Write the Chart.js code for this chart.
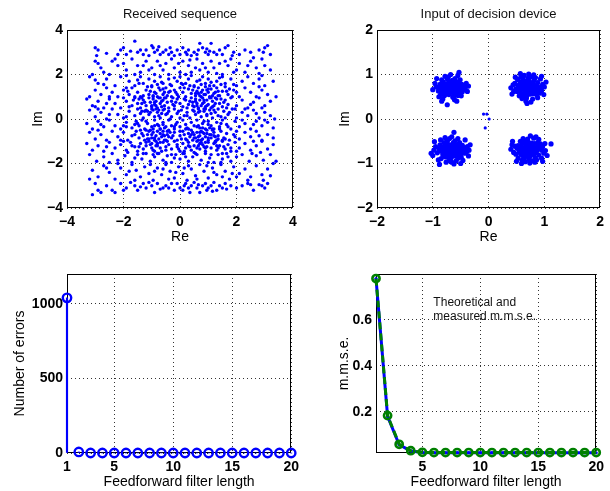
<!DOCTYPE html>
<html>
<head>
<meta charset="utf-8">
<script src="https://cdn.jsdelivr.net/npm/chart.js@4/dist/chart.umd.min.js"></script>
<style>
  html, body { margin: 0; padding: 0; background: #fff; }
  #wrap { position: relative; width: 610px; height: 491px; overflow: hidden; }
  canvas { position: absolute; }
</style>
</head>
<body>
<div id="wrap">
  <canvas id="recv" width="305" height="245" style="left:0;top:0"></canvas>
  <canvas id="dec" width="305" height="245" style="left:305px;top:0"></canvas>
  <canvas id="err" width="305" height="246" style="left:0;top:245px"></canvas>
  <canvas id="mmse" width="305" height="246" style="left:305px;top:245px"></canvas>
</div>
<script>
// ---- Received sequence (channel output, complex plane) ----
const receivedPoints = [
  [-3.0,3.2],[-2.9,3.1],[-2.1,3.1],[-2.0,3.2],[-1.6,3.5],[-1.5,3.0],[-1.3,2.9],[-1.2,3.1],[-1.0,3.3],[-0.9,3.0],[-0.8,3.1],[-0.7,2.9],[-0.5,3.1],[-0.4,2.9],[-0.3,3.0],[-0.1,3.1],[0.0,2.9],[0.2,3.0],[0.3,3.1],[0.5,3.0],[0.6,2.9],[0.7,3.4],[0.9,3.0],[1.0,2.9],[1.1,3.4],[1.3,2.9],[1.4,3.1],[1.6,3.2],[1.7,3.3],[1.9,3.0],[2.3,3.1],[2.8,3.1],[3.0,3.2],[3.1,3.3],[-2.2,2.9],[-1.9,2.9],[-1.1,2.85],[-0.6,3.0],[0.1,3.2],[0.4,2.85],[0.8,3.2],[1.2,3.0],[1.5,2.9],[-0.2,2.85],[-1.4,3.1],[2.5,3.0],[-2.6,2.95],[3.2,2.9],[-0.95,3.2],[0.65,3.1],[1.85,2.85],[-1.75,3.05],[-0.35,3.2],[0.95,3.15],[-2.95,2.85],[2.1,2.9],[0.25,2.9],[1.05,3.05],[-0.75,3.25],[2.95,3.0],
  [-3.0,2.6],[-2.8,2.3],[-2.7,2.1],[-2.4,2.6],[-2.2,2.4],[-2.0,2.5],[-1.9,2.2],[-1.7,2.7],[-1.5,2.4],[-1.4,2.1],[-1.2,2.6],[-1.0,2.3],[-0.9,2.0],[-0.8,2.6],[-0.6,2.2],[-0.5,2.5],[-0.3,2.7],[-0.2,2.3],[0.0,2.1],[0.1,2.6],[0.3,2.4],[0.4,2.1],[0.6,2.7],[0.7,2.2],[0.8,2.5],[1.0,2.1],[1.1,2.6],[1.2,2.3],[1.4,2.5],[1.5,2.0],[1.7,2.4],[1.8,2.7],[2.0,2.2],[2.1,2.5],[2.3,2.1],[2.5,2.6],[2.7,2.3],[2.9,2.7],[3.0,2.4],[3.2,2.2],[-3.1,2.0],[-2.5,2.0],[-1.6,2.0],[-0.4,2.0],[0.2,2.0],[0.9,2.3],[1.6,2.6],[2.4,2.4],[-1.1,2.2],[-0.05,2.5],[0.55,2.3],[1.3,2.05],[-2.3,2.7],[2.8,2.05],[-0.7,2.4],[1.9,2.1],[-1.3,2.4],[0.35,2.65],[2.6,2.75],[-2.9,2.5],
  [-3.2,1.9],[-2.9,1.6],[-2.6,1.8],[-2.3,1.5],[-2.1,1.9],[-1.8,1.7],[-1.6,1.5],[-1.4,1.9],[-1.3,1.6],[-1.1,1.8],[-1.0,1.5],[-0.9,1.7],[-0.7,1.9],[-0.6,1.6],[-0.4,1.8],[-0.3,1.5],[-0.1,1.7],[0.0,1.9],[0.2,1.6],[0.3,1.8],[0.5,1.5],[0.6,1.7],[0.8,1.9],[0.9,1.6],[1.0,1.8],[1.2,1.5],[1.3,1.7],[1.5,1.9],[1.6,1.6],[1.8,1.8],[2.0,1.5],[2.2,1.7],[2.4,1.9],[2.6,1.6],[2.8,1.8],[3.0,1.5],[3.3,1.7],[-2.7,1.55],[-1.9,1.95],[-0.8,1.55],[0.4,1.95],[1.1,1.65],[1.9,1.55],[-0.2,1.85],[0.7,1.75],[-1.5,1.75],[2.9,1.95],[-3.0,1.75],[1.4,1.85],[0.1,1.55],
  [-3.2,1.0],[-3.0,1.3],[-2.8,1.1],[-2.6,1.4],[-2.4,1.2],[-2.2,1.0],[-2.0,1.3],[-1.8,1.1],[-1.7,1.4],[-1.5,1.2],[-1.4,1.0],[-1.2,1.3],[-1.1,1.1],[-1.0,1.45],[-0.9,1.2],[-0.8,1.0],[-0.7,1.3],[-0.6,1.1],[-0.5,1.4],[-0.4,1.2],[-0.3,1.0],[-0.2,1.3],[-0.1,1.1],[0.0,1.4],[0.1,1.2],[0.2,1.0],[0.3,1.35],[0.4,1.15],[0.5,1.45],[0.6,1.25],[0.7,1.05],[0.8,1.3],[0.85,1.1],[0.9,1.45],[1.0,1.2],[1.05,1.0],[1.1,1.35],[1.2,1.15],[1.3,1.4],[1.4,1.05],[1.5,1.25],[1.6,1.45],[1.7,1.1],[1.9,1.3],[2.1,1.0],[2.3,1.4],[2.5,1.2],[2.7,1.0],[2.9,1.3],[3.1,1.1],[3.4,1.0],[-1.9,1.4],[-1.3,1.05],[-0.75,1.4],[-0.35,1.25],[0.15,1.4],[0.55,1.05],[0.75,1.2],[0.95,1.3],[1.15,1.05],[1.35,1.25],[-0.95,1.05],[-0.55,1.2],[-1.6,1.0],[2.0,1.2],[2.8,1.45],[-2.5,1.0],[0.65,1.4],[-0.05,1.0],[1.75,1.35],
  [-3.3,0.9],[-3.1,0.6],[-2.9,0.8],[-2.7,0.5],[-2.5,0.9],[-2.3,0.7],[-2.1,0.5],[-1.9,0.8],[-1.7,0.6],[-1.6,0.95],[-1.5,0.7],[-1.4,0.5],[-1.3,0.85],[-1.2,0.6],[-1.1,0.95],[-1.05,0.75],[-1.0,0.55],[-0.95,0.9],[-0.9,0.65],[-0.85,0.8],[-0.8,0.5],[-0.75,0.95],[-0.7,0.7],[-0.65,0.55],[-0.6,0.85],[-0.55,0.6],[-0.5,0.95],[-0.45,0.75],[-0.4,0.5],[-0.3,0.8],[-0.2,0.6],[-0.1,0.9],[0.0,0.7],[0.1,0.55],[0.2,0.85],[0.3,0.65],[0.4,0.95],[0.45,0.75],[0.5,0.55],[0.55,0.9],[0.6,0.7],[0.65,0.5],[0.7,0.85],[0.75,0.6],[0.8,0.95],[0.85,0.75],[0.9,0.55],[0.95,0.85],[1.0,0.65],[1.05,0.95],[1.1,0.5],[1.15,0.8],[1.2,0.6],[1.3,0.9],[1.4,0.7],[1.5,0.55],[1.6,0.85],[1.7,0.65],[1.8,0.95],[2.0,0.6],[2.2,0.85],[2.4,0.5],[2.6,0.75],[2.8,0.95],[3.0,0.6],[3.2,0.8],[-2.0,0.95],[-1.8,0.55],[-1.35,0.7],[-0.25,0.95],[0.25,0.5],[1.25,0.95],[1.65,0.5],[2.5,0.65],[-2.6,0.7],[-0.15,0.75],[0.35,0.8],[1.45,0.9],[2.9,0.5],[-3.0,0.55],
  [-3.2,0.4],[-3.0,0.1],[-2.8,0.3],[-2.6,0.0],[-2.4,0.45],[-2.2,0.2],[-2.0,0.05],[-1.8,0.35],[-1.6,0.15],[-1.5,0.45],[-1.4,0.25],[-1.3,0.05],[-1.2,0.4],[-1.1,0.2],[-1.0,0.45],[-0.9,0.1],[-0.8,0.3],[-0.7,0.05],[-0.6,0.4],[-0.5,0.2],[-0.4,0.35],[-0.3,0.1],[-0.2,0.45],[-0.1,0.25],[0.05,0.4],[0.15,0.15],[0.25,0.3],[0.35,0.05],[0.45,0.4],[0.55,0.2],[0.65,0.45],[0.75,0.1],[0.85,0.35],[0.95,0.15],[1.05,0.4],[1.15,0.05],[1.25,0.3],[1.35,0.45],[1.45,0.1],[1.55,0.35],[1.7,0.2],[1.85,0.45],[2.0,0.05],[2.2,0.3],[2.4,0.15],[2.6,0.4],[2.8,0.05],[3.0,0.3],[3.2,0.15],[3.35,0.0],[-2.9,0.45],[-2.5,0.2],[-1.9,0.1],[-1.05,0.3],[-0.65,0.25],[-0.35,0.0],[0.0,0.05],[0.5,0.35],[0.9,0.45],[1.6,0.05],[2.3,0.45],[2.7,0.25],[-1.35,0.35],[-0.85,0.45],[1.1,0.25],
  [-3.3,-0.2],[-3.1,-0.45],[-2.9,-0.1],[-2.7,-0.35],[-2.5,-0.05],[-2.3,-0.3],[-2.1,-0.45],[-1.9,-0.15],[-1.7,-0.4],[-1.55,-0.1],[-1.45,-0.3],[-1.35,-0.05],[-1.25,-0.45],[-1.15,-0.2],[-1.0,-0.35],[-0.9,-0.05],[-0.8,-0.25],[-0.7,-0.45],[-0.6,-0.15],[-0.5,-0.35],[-0.4,-0.05],[-0.3,-0.3],[-0.2,-0.45],[-0.1,-0.15],[0.0,-0.35],[0.1,-0.05],[0.2,-0.25],[0.3,-0.45],[0.4,-0.15],[0.5,-0.3],[0.6,-0.05],[0.7,-0.4],[0.8,-0.2],[0.9,-0.45],[1.0,-0.1],[1.1,-0.3],[1.2,-0.45],[1.3,-0.15],[1.4,-0.35],[1.5,-0.05],[1.65,-0.25],[1.8,-0.45],[1.95,-0.1],[2.1,-0.35],[2.3,-0.2],[2.5,-0.45],[2.7,-0.1],[2.9,-0.3],[3.1,-0.15],[3.3,-0.4],[-2.8,-0.25],[-2.0,-0.3],[-1.6,-0.25],[-0.95,-0.45],[-0.55,-0.4],[-0.15,-0.25],[0.25,-0.4],[0.65,-0.3],[1.05,-0.4],[1.45,-0.2],[2.2,-0.05],[2.6,-0.25],[3.0,-0.05],[-1.2,-0.1],[0.85,-0.1],
  [-3.2,-0.6],[-3.0,-0.9],[-2.8,-0.7],[-2.6,-0.95],[-2.4,-0.55],[-2.2,-0.8],[-2.0,-0.6],[-1.85,-0.95],[-1.7,-0.75],[-1.55,-0.55],[-1.45,-0.85],[-1.35,-0.65],[-1.25,-0.95],[-1.15,-0.7],[-1.05,-0.5],[-1.0,-0.85],[-0.95,-0.6],[-0.9,-0.95],[-0.85,-0.75],[-0.8,-0.55],[-0.75,-0.9],[-0.7,-0.65],[-0.65,-0.8],[-0.6,-0.55],[-0.5,-0.95],[-0.45,-0.7],[-0.4,-0.5],[-0.3,-0.85],[-0.2,-0.6],[-0.1,-0.95],[0.0,-0.75],[0.1,-0.55],[0.2,-0.9],[0.3,-0.65],[0.35,-0.8],[0.4,-0.5],[0.45,-0.95],[0.5,-0.7],[0.55,-0.85],[0.6,-0.6],[0.65,-0.95],[0.7,-0.75],[0.75,-0.55],[0.8,-0.9],[0.85,-0.65],[0.9,-0.8],[0.95,-0.5],[1.0,-0.95],[1.05,-0.7],[1.1,-0.85],[1.2,-0.6],[1.3,-0.95],[1.35,-0.75],[1.45,-0.55],[1.55,-0.85],[1.65,-0.65],[1.75,-0.95],[1.9,-0.7],[2.1,-0.9],[2.3,-0.6],[2.5,-0.8],[2.7,-0.55],[2.9,-0.95],[3.1,-0.7],[3.3,-0.85],[-2.9,-0.5],[-2.1,-0.95],[-1.6,-0.7],[-0.55,-0.75],[-0.25,-0.75],[0.15,-0.7],[0.25,-0.95],[1.15,-0.5],[1.5,-0.95],[2.0,-0.55],[2.8,-0.75],[-1.1,-0.9],[-0.35,-0.6],[0.05,-0.9],[1.25,-0.8],
  [-3.3,-1.1],[-3.1,-1.4],[-2.9,-1.2],[-2.7,-1.45],[-2.5,-1.05],[-2.3,-1.3],[-2.1,-1.15],[-1.9,-1.4],[-1.75,-1.05],[-1.6,-1.25],[-1.5,-1.45],[-1.4,-1.1],[-1.3,-1.35],[-1.2,-1.2],[-1.1,-1.0],[-1.0,-1.3],[-0.9,-1.45],[-0.8,-1.1],[-0.7,-1.3],[-0.6,-1.05],[-0.5,-1.4],[-0.4,-1.15],[-0.3,-1.35],[-0.2,-1.0],[-0.1,-1.25],[0.0,-1.45],[0.1,-1.1],[0.2,-1.3],[0.3,-1.05],[0.4,-1.4],[0.5,-1.2],[0.6,-1.0],[0.7,-1.35],[0.8,-1.15],[0.9,-1.45],[1.0,-1.05],[1.1,-1.3],[1.2,-1.1],[1.3,-1.4],[1.4,-1.2],[1.5,-1.0],[1.6,-1.35],[1.7,-1.15],[1.8,-1.45],[1.95,-1.05],[2.1,-1.3],[2.3,-1.1],[2.5,-1.4],[2.7,-1.2],[2.9,-1.0],[3.1,-1.35],[3.3,-1.15],[-2.0,-1.0],[-1.45,-1.25],[-0.85,-1.2],[-0.45,-1.0],[-0.05,-1.35],[0.35,-1.25],[0.65,-1.2],[0.95,-1.25],[1.25,-1.0],[1.55,-1.25],[-2.6,-1.25],[2.0,-1.45],[-1.05,-1.15],[0.15,-1.45],[0.75,-1.05],[1.35,-1.3],[-0.65,-1.45],[2.6,-1.0],
  [-3.2,-1.6],[-2.95,-1.9],[-2.7,-1.7],[-2.4,-1.55],[-2.2,-1.85],[-1.95,-1.65],[-1.7,-1.95],[-1.5,-1.6],[-1.35,-1.8],[-1.2,-1.55],[-1.05,-1.9],[-0.9,-1.7],[-0.75,-1.55],[-0.6,-1.85],[-0.45,-1.65],[-0.3,-1.95],[-0.15,-1.6],[0.0,-1.8],[0.15,-1.55],[0.3,-1.9],[0.45,-1.7],[0.6,-1.6],[0.75,-1.85],[0.9,-1.55],[1.05,-1.75],[1.2,-1.95],[1.35,-1.6],[1.5,-1.8],[1.65,-1.55],[1.8,-1.9],[2.0,-1.7],[2.2,-1.6],[2.45,-1.9],[2.7,-1.65],[2.95,-1.85],[3.2,-1.6],[3.4,-1.9],[-2.5,-1.95],[-1.6,-1.75],[-0.5,-1.95],[0.2,-1.7],[1.0,-1.95],[1.7,-1.7],[2.55,-1.55],[-0.95,-1.6],[0.55,-1.55],[-1.85,-1.5],[1.45,-1.95],[-0.2,-1.75],[2.85,-1.5],
  [-3.1,-2.3],[-2.9,-2.6],[-2.7,-2.1],[-2.5,-2.4],[-2.3,-2.7],[-2.1,-2.2],[-1.9,-2.5],[-1.7,-2.05],[-1.55,-2.3],[-1.4,-2.6],[-1.25,-2.15],[-1.1,-2.45],[-0.95,-2.75],[-0.8,-2.2],[-0.65,-2.5],[-0.5,-2.05],[-0.35,-2.35],[-0.2,-2.65],[-0.05,-2.15],[0.1,-2.45],[0.25,-2.75],[0.4,-2.25],[0.55,-2.55],[0.7,-2.05],[0.85,-2.35],[1.0,-2.65],[1.15,-2.2],[1.3,-2.5],[1.45,-2.05],[1.6,-2.35],[1.75,-2.7],[1.9,-2.15],[2.1,-2.45],[2.3,-2.25],[2.5,-2.6],[2.7,-2.1],[2.9,-2.5],[3.1,-2.25],[3.3,-2.0],[-3.2,-2.7],[-2.2,-2.0],[-1.6,-2.75],[-0.9,-2.35],[-0.4,-2.7],[0.3,-2.1],[0.95,-2.1],[1.5,-2.6],[2.4,-2.75],[2.95,-2.75],[-1.05,-2.05],[0.6,-2.7],[1.2,-2.4],[-2.6,-2.2],[-0.15,-2.4],[0.15,-2.2],[2.0,-2.6],[-1.8,-2.35],[-0.6,-2.25],[1.85,-2.45],[3.2,-2.55],
  [-3.1,-3.4],[-3.0,-2.9],[-2.9,-3.2],[-2.6,-3.0],[-2.4,-3.2],[-2.3,-3.3],[-2.1,-2.9],[-1.9,-3.1],[-1.6,-3.0],[-1.5,-3.2],[-1.3,-2.9],[-1.2,-3.1],[-1.0,-3.0],[-0.9,-3.3],[-0.8,-2.9],[-0.6,-3.1],[-0.5,-3.0],[-0.3,-2.9],[-0.2,-3.2],[0.0,-3.1],[0.1,-3.2],[0.2,-2.9],[0.3,-3.1],[0.4,-3.0],[0.5,-2.85],[0.6,-3.1],[0.7,-3.3],[0.8,-3.0],[0.9,-2.9],[1.0,-3.1],[1.1,-3.0],[1.2,-2.85],[1.3,-3.2],[1.4,-3.0],[1.5,-3.1],[1.6,-2.9],[1.8,-3.0],[2.0,-3.1],[2.2,-3.0],[2.4,-2.9],[2.6,-3.2],[2.8,-2.95],[3.0,-3.1],[3.1,-2.9],[-2.8,-3.3],[-1.75,-2.85],[-1.1,-2.85],[-0.7,-3.15],[-0.1,-2.9],[0.35,-3.3],[0.95,-3.2],[1.65,-3.15],[2.5,-2.95],[-0.4,-3.1],[0.15,-3.0],[0.65,-2.95],[1.15,-3.25],[-1.4,-3.05],[2.9,-3.0],[-2.0,-3.2],
  [-1.85,1.25],[-1.65,0.85],[-1.45,1.6],[-1.25,0.35],[-1.15,1.45],[-0.95,0.4],[-0.85,1.15],[-0.75,0.15],[-0.65,1.65],[-0.55,0.95],[-0.45,0.25],[-0.35,1.55],[-0.25,0.65],[-0.15,1.2],[-0.05,0.35],[0.05,1.6],[0.15,0.9],[0.25,0.15],[0.35,1.5],[0.45,0.6],[0.55,1.15],[0.65,0.3],[0.75,1.55],[0.85,0.85],[0.95,0.2],[1.05,1.5],[1.15,0.55],[1.25,1.2],[1.35,0.15],[1.45,1.55],[1.55,0.75],[1.65,1.25],[1.75,0.3],[1.85,1.0],[1.95,0.45],
  [-1.9,-0.35],[-1.7,-1.2],[-1.5,-0.2],[-1.3,-1.55],[-1.2,-0.5],[-1.0,-1.1],[-0.9,-0.3],[-0.8,-1.55],[-0.7,-1.05],[-0.6,-0.25],[-0.5,-1.25],[-0.4,-0.8],[-0.3,-1.6],[-0.2,-0.35],[-0.1,-1.15],[0.0,-0.55],[0.1,-1.55],[0.2,-0.45],[0.3,-1.2],[0.4,-0.7],[0.5,-1.5],[0.6,-0.35],[0.7,-1.1],[0.8,-0.6],[0.9,-1.3],[1.0,-0.25],[1.1,-1.6],[1.2,-0.75],[1.3,-1.2],[1.4,-0.45],[1.5,-1.55],[1.6,-0.9],[1.7,-0.35],[1.8,-1.3],[1.95,-0.8],
  [-1.35,0.95],[-1.05,1.25],[-0.85,0.6],[-0.7,0.95],[-0.55,0.45],[-1.25,0.75],[-0.95,1.0],[-0.6,1.35],[-1.15,0.35],[-0.75,0.4],[-0.45,1.05],[-1.45,0.9],[-0.9,0.75],[-0.65,0.8],[-1.0,0.6],
  [0.55,0.8],[0.75,1.0],[0.95,0.6],[1.1,0.95],[0.65,1.15],[0.85,0.45],[1.25,0.7],[0.45,1.3],[0.8,0.7],[1.0,1.35],[0.6,0.6],[1.2,0.4],[0.9,1.1],[0.7,0.35],[1.35,1.05],
  [-1.3,-0.75],[-1.1,-0.55],[-0.9,-0.85],[-0.7,-0.45],[-0.55,-0.95],[-1.2,-1.05],[-0.8,-1.2],[-1.0,-0.7],[-0.6,-0.7],[-1.4,-0.5],[-0.95,-1.4],[-0.75,-0.3],[-1.15,-0.9],[-0.45,-0.55],[-0.85,-1.0],
  [0.5,-0.85],[0.7,-0.6],[0.9,-1.05],[1.1,-0.7],[0.6,-1.3],[0.8,-0.4],[1.0,-0.85],[1.25,-1.05],[0.45,-0.6],[0.75,-0.95],[1.15,-0.45],[0.95,-0.65],[0.65,-0.8],[1.35,-0.9],[0.85,-1.25]
];
const recvTicks = [-4, -2, 0, 2, 4];
const recvTickLabels = ['\u22124', '\u22122', '0', '2', '4'];

// ---- Input of decision device: four QPSK clusters plus a few start-up samples ----
const decisionUL = [
  [-0.68,0.70],[-0.72,0.74],[-0.64,0.66],[-0.75,0.68],[-0.61,0.73],[-0.70,0.62],[-0.66,0.78],[-0.79,0.71],[-0.57,0.69],[-0.73,0.80],[-0.63,0.60],[-0.82,0.65],[-0.55,0.76],[-0.69,0.84],[-0.76,0.58],[-0.60,0.82],[-0.85,0.74],[-0.52,0.64],[-0.71,0.55],[-0.65,0.87],[-0.80,0.79],[-0.58,0.58],[-0.88,0.69],[-0.50,0.71],[-0.74,0.90],[-0.62,0.52],[-0.83,0.60],[-0.54,0.83],[-0.67,0.73],[-0.77,0.76],[-0.59,0.64],[-0.71,0.67],[-0.65,0.71],[-0.74,0.63],[-0.62,0.77],[-0.78,0.66],[-0.56,0.72],[-0.69,0.59],[-0.81,0.83],[-0.53,0.60],[-0.87,0.78],[-0.48,0.78],[-0.90,0.63],[-0.46,0.66],[-0.72,0.95],[-0.60,0.91],[-0.79,0.53],[-0.64,0.49],[-0.94,0.72],[-0.44,0.73],[-0.84,0.88],[-0.51,0.88],[-0.86,0.55],[-0.55,0.53],[-0.70,0.78],[-0.63,0.69],[-0.76,0.72],[-0.58,0.80],[-0.67,0.63],[-0.73,0.57],[-0.61,0.86],[-0.80,0.62],[-0.47,0.61],[-0.96,0.80],[-0.42,0.69],[-0.68,1.00],[-0.55,0.98],[-0.82,0.45],[-0.61,0.43],[-1.00,0.66],[-0.40,0.80],[-0.78,0.96],[-0.89,0.50],[-0.49,0.52],[-0.74,0.32],[-0.38,0.62],[-0.53,1.05],[-0.93,0.91],[-0.57,0.40],[-0.36,0.74],[-0.84,0.40]
];
const decisionUR = [
  [0.70,0.70],[0.66,0.74],[0.74,0.66],[0.63,0.69],[0.77,0.73],[0.68,0.62],[0.72,0.79],[0.60,0.76],[0.81,0.68],[0.65,0.58],[0.79,0.82],[0.57,0.64],[0.84,0.61],[0.69,0.86],[0.62,0.54],[0.87,0.76],[0.54,0.71],[0.75,0.56],[0.59,0.84],[0.82,0.88],[0.51,0.62],[0.90,0.67],[0.71,0.92],[0.67,0.51],[0.56,0.79],[0.86,0.55],[0.73,0.74],[0.64,0.65],[0.78,0.63],[0.69,0.78],[0.61,0.72],[0.76,0.69],[0.66,0.60],[0.83,0.74],[0.58,0.57],[0.73,0.85],[0.53,0.75],[0.88,0.82],[0.80,0.57],[0.62,0.89],[0.93,0.71],[0.49,0.68],[0.68,0.47],[0.76,0.95],[0.55,0.52],[0.91,0.58],[0.47,0.80],[0.84,0.93],[0.95,0.64],[0.58,0.95],[0.72,0.60],[0.67,0.68],[0.74,0.77],[0.63,0.82],[0.79,0.76],[0.70,0.55],[0.85,0.69],[0.56,0.67],[0.97,0.78],[0.45,0.62],[0.72,1.01],[0.64,0.98],[0.88,0.48],[0.60,0.46],[1.00,0.72],[0.44,0.77],[0.81,0.99],[0.93,0.90],[0.52,0.89],[0.67,0.40],[0.42,0.56],[0.99,0.55],[0.79,0.45],[0.48,0.94],[0.69,0.35],[0.40,0.70],[1.03,0.83],[0.57,1.02],[0.95,0.96],[0.76,0.38]
];
const decisionLL = [
  [-0.66,-0.70],[-0.70,-0.66],[-0.62,-0.74],[-0.73,-0.72],[-0.59,-0.67],[-0.68,-0.78],[-0.64,-0.61],[-0.77,-0.68],[-0.56,-0.75],[-0.71,-0.59],[-0.61,-0.83],[-0.80,-0.75],[-0.53,-0.65],[-0.67,-0.87],[-0.74,-0.56],[-0.58,-0.58],[-0.83,-0.64],[-0.50,-0.79],[-0.63,-0.53],[-0.78,-0.85],[-0.55,-0.88],[-0.86,-0.72],[-0.48,-0.70],[-0.70,-0.93],[-0.65,-0.74],[-0.72,-0.69],[-0.60,-0.71],[-0.69,-0.63],[-0.75,-0.79],[-0.57,-0.80],[-0.63,-0.65],[-0.79,-0.61],[-0.54,-0.60],[-0.68,-0.82],[-0.82,-0.80],[-0.51,-0.72],[-0.89,-0.67],[-0.45,-0.64],[-0.74,-0.50],[-0.60,-0.49],[-0.85,-0.89],[-0.49,-0.86],[-0.92,-0.76],[-0.43,-0.77],[-0.66,-0.97],[-0.58,-0.94],[-0.80,-0.53],[-0.52,-0.53],[-0.95,-0.62],[-0.41,-0.68],[-0.71,-0.75],[-0.64,-0.78],[-0.76,-0.64],[-0.59,-0.63],[-0.67,-0.58],[-0.73,-0.86],[-0.56,-0.68],[-0.87,-0.58],[-0.47,-0.59],[-0.98,-0.70],[-0.39,-0.73],[-0.76,-0.97],[-0.62,-1.01],[-0.86,-0.47],[-0.55,-0.44],[-1.00,-0.82],[-0.38,-0.62],[-0.90,-0.92],[-0.46,-0.93],[-0.66,-0.40],[-0.35,-0.70],[-0.97,-0.51],[-0.78,-0.42],[-0.50,-1.00],[-0.62,-0.30],[-0.33,-0.58],[-1.03,-0.77],[-0.42,-0.47],[-0.88,-1.02],[-0.70,-0.44],[-0.36,-0.83]
];
const decisionLR = [
  [0.72,-0.68],[0.68,-0.72],[0.76,-0.64],[0.65,-0.66],[0.79,-0.71],[0.70,-0.60],[0.74,-0.77],[0.62,-0.74],[0.83,-0.65],[0.67,-0.56],[0.81,-0.80],[0.59,-0.62],[0.86,-0.72],[0.71,-0.85],[0.64,-0.52],[0.89,-0.59],[0.56,-0.70],[0.77,-0.54],[0.61,-0.82],[0.84,-0.88],[0.53,-0.60],[0.92,-0.66],[0.73,-0.91],[0.69,-0.49],[0.58,-0.79],[0.88,-0.53],[0.75,-0.71],[0.66,-0.63],[0.80,-0.61],[0.71,-0.76],[0.63,-0.69],[0.78,-0.67],[0.68,-0.58],[0.85,-0.75],[0.60,-0.55],[0.75,-0.83],[0.55,-0.74],[0.90,-0.81],[0.82,-0.55],[0.64,-0.88],[0.95,-0.70],[0.51,-0.66],[0.70,-0.45],[0.78,-0.94],[0.57,-0.50],[0.93,-0.56],[0.49,-0.79],[0.86,-0.92],[0.97,-0.62],[0.60,-0.93],[0.74,-0.59],[0.69,-0.66],[0.76,-0.75],[0.65,-0.80],[0.81,-0.74],[0.72,-0.53],[0.87,-0.67],[0.58,-0.66],[0.99,-0.77],[0.47,-0.61],[0.74,-0.99],[0.66,-0.96],[0.90,-0.46],[0.62,-0.44],[1.02,-0.71],[0.45,-0.75],[0.83,-0.97],[0.95,-0.88],[0.53,-0.88],[0.75,-0.38],[0.42,-0.58],[1.01,-0.55],[0.81,-0.43],[0.50,-0.95],[1.12,-0.56],[0.40,-0.68],[1.05,-0.82],[0.59,-1.00],[0.97,-0.95],[0.85,-0.40],[0.43,-0.50]
];
const decisionStartup = [[-0.09,0.11],[-0.03,0.11],[0.01,0.00],[-0.06,-0.20]];
const decTicks = [-2, -1, 0, 1, 2];
const decTickLabels = ['\u22122', '\u22121', '0', '1', '2'];

// ---- Symbol errors and m.m.s.e. versus feedforward filter length ----
const filterLengths = [1, 2, 3, 4, 5, 6, 7, 8, 9, 10, 11, 12, 13, 14, 15, 16, 17, 18, 19, 20];
const errorCounts   = [1040, 7, 0, 0, 0, 0, 0, 0, 0, 0, 0, 0, 0, 0, 0, 0, 0, 0, 0, 0];
const errXTicks = [1, 5, 10, 15, 20];
const errXTickLabels = ['1', '5', '10', '15', '20'];
const errYTicks = [0, 500, 1000];
const errYTickLabels = ['0', '500', '1000'];

const mmseTheory   = [0.780, 0.180, 0.056, 0.029, 0.022, 0.021, 0.021, 0.021, 0.021, 0.021, 0.021, 0.021, 0.021, 0.021, 0.021, 0.021, 0.021, 0.021, 0.021, 0.021];
const mmseMeasured = [0.780, 0.183, 0.058, 0.030, 0.023, 0.022, 0.022, 0.022, 0.022, 0.022, 0.022, 0.022, 0.022, 0.022, 0.022, 0.022, 0.022, 0.022, 0.022, 0.022];
const mmseXTicks = [5, 10, 15, 20];
const mmseXTickLabels = ['5', '10', '15', '20'];
const mmseYTicks = [0.2, 0.4, 0.6];
const mmseYTickLabels = ['0.2', '0.4', '0.6'];
const mmseNote = ['Theoretical and', 'measured m.m.s.e.'];

// ---- Styling helpers ----
const FONT = "'Liberation Sans', Arial, Helvetica, sans-serif";
const BLUE = '#0000ff';
const GREEN = '#008000';

// Solid axes box around the plotting area, drawn beneath the data
const framePlugin = {
  id: 'frame',
  beforeDatasetsDraw(chart) {
    const a = chart.chartArea, ctx = chart.ctx;
    ctx.save();
    ctx.strokeStyle = '#000';
    ctx.lineWidth = 1;
    ctx.setLineDash([]);
    const l = Math.round(a.left) + 0.5, t = Math.round(a.top) + 0.5;
    const r = Math.round(a.right) - 0.5, b = Math.round(a.bottom) - 0.5;
    ctx.strokeRect(l, t, r - l, b - t);
    ctx.restore();
  }
};

// Free text placed in data coordinates (used for the m.m.s.e. note)
const notePlugin = {
  id: 'note',
  afterDraw(chart, args, opts) {
    if (!opts || !opts.lines) return;
    const {ctx, scales: {x, y}} = chart;
    ctx.save();
    ctx.font = `12px ${FONT}`;
    ctx.fillStyle = '#111';
    ctx.textAlign = 'left';
    ctx.textBaseline = 'middle';
    const px = x.getPixelForValue(opts.x), py = y.getPixelForValue(opts.y);
    opts.lines.forEach((t, i) => ctx.fillText(t, px, py + i * 14.5));
    ctx.restore();
  }
};

function axis(o) {
  return {
    type: 'linear',
    position: o.position,
    min: o.min,
    max: o.max,
    offset: false,
    afterFit(s) { if (s.isHorizontal()) s.height = o.size; else s.width = o.size; },
    afterBuildTicks(s) { s.ticks = o.ticks.map(v => ({ value: v })); },
    ticks: {
      callback: (v, i) => o.labels[i],
      font: { family: FONT, size: 14, weight: 'bold' },
      color: '#000',
      padding: o.tickPad,
      maxRotation: 0,
      autoSkip: false
    },
    grid: { color: '#333', lineWidth: 1, drawTicks: false, offset: false },
    border: { display: false, dash: [1, 3] },
    title: {
      display: true,
      text: o.title,
      font: { family: FONT, size: 14, lineHeight: 1.1 },
      color: '#000',
      padding: o.titlePad
    }
  };
}

function titleOpts(text) {
  return {
    display: true,
    text: text,
    fullSize: false,
    color: '#111',
    font: { family: FONT, size: 13, weight: 'normal', lineHeight: 1.2 },
    padding: { top: 7, bottom: 7.4 }
  };
}

const common = {
  responsive: false,
  animation: false,
  devicePixelRatio: 1,
  events: [],
  plugins: { legend: { display: false }, tooltip: { enabled: false } }
};

function dots(points, r) {
  return {
    data: points.map(p => ({ x: p[0], y: p[1] })),
    pointRadius: r,
    pointHoverRadius: r,
    pointBorderWidth: 0,
    pointBackgroundColor: BLUE,
    borderColor: BLUE,
    showLine: false
  };
}

// ---- Received sequence ----
new Chart(document.getElementById('recv'), {
  type: 'scatter',
  data: { datasets: [dots(receivedPoints, 1.7)] },
  options: Object.assign({}, common, {
    layout: { padding: { left: 0, right: 12, top: 0, bottom: 0 } },
    plugins: Object.assign({}, common.plugins, { title: titleOpts('Received sequence') }),
    scales: {
      x: axis({ position: 'bottom', min: -4, max: 4, ticks: recvTicks, labels: recvTickLabels, size: 37, tickPad: 6, title: 'Re', titlePad: { top: 0, bottom: 0 } }),
      y: axis({ position: 'left', min: -4, max: 4, ticks: recvTicks, labels: recvTickLabels, size: 67, tickPad: 4, title: 'Im', titlePad: { top: 30, bottom: 0 } })
    }
  }),
  plugins: [framePlugin]
});

// ---- Input of decision device ----
new Chart(document.getElementById('dec'), {
  type: 'scatter',
  data: {
    datasets: [
      dots(decisionUL, 2.6), dots(decisionUR, 2.6), dots(decisionLL, 2.6), dots(decisionLR, 2.6),
      dots(decisionStartup, 1.6)
    ]
  },
  options: Object.assign({}, common, {
    layout: { padding: { left: 0, right: 7, top: 0, bottom: 0 } },
    plugins: Object.assign({}, common.plugins, { title: titleOpts('Input of decision device') }),
    scales: {
      x: axis({ position: 'bottom', min: -2, max: 2, ticks: decTicks, labels: decTickLabels, size: 37, tickPad: 6, title: 'Re', titlePad: { top: 0, bottom: 0 } }),
      y: axis({ position: 'left', min: -2, max: 2, ticks: decTicks, labels: decTickLabels, size: 72, tickPad: 4, title: 'Im', titlePad: { top: 32, bottom: 0 } })
    }
  }),
  plugins: [framePlugin]
});

// ---- Number of errors (stem plot: thin bars as stems, open circles as heads) ----
new Chart(document.getElementById('err'), {
  type: 'scatter',
  data: {
    datasets: [
      {
        type: 'bar',
        data: filterLengths.map((n, i) => ({ x: n, y: errorCounts[i] })),
        backgroundColor: BLUE,
        borderWidth: 0,
        barThickness: 1.5,
        grouped: false,
        clip: false,
        order: 2
      },
      {
        data: filterLengths.map((n, i) => ({ x: n, y: errorCounts[i] })),
        pointRadius: 4.2,
        pointHoverRadius: 4.2,
        pointBorderWidth: 2.4,
        pointBorderColor: BLUE,
        pointBackgroundColor: 'rgba(0,0,0,0)',
        showLine: false,
        clip: false,
        order: 1
      }
    ]
  },
  options: Object.assign({}, common, {
    layout: { padding: { left: 0, right: 12, top: 29, bottom: 0 } },
    scales: {
      x: axis({ position: 'bottom', min: 1, max: 20, ticks: errXTicks, labels: errXTickLabels, size: 38, tickPad: 6, title: 'Feedforward filter length', titlePad: { top: 0, bottom: 1 } }),
      y: axis({ position: 'left', min: 0, max: 1200, ticks: errYTicks, labels: errYTickLabels, size: 67, tickPad: 4, title: 'Number of errors', titlePad: { top: 12.5, bottom: 0 } })
    }
  }),
  plugins: [framePlugin]
});

// ---- Theoretical and measured m.m.s.e. ----
new Chart(document.getElementById('mmse'), {
  type: 'line',
  data: {
    datasets: [
      {
        data: filterLengths.map((n, i) => ({ x: n, y: mmseMeasured[i] })),
        borderColor: GREEN,
        borderWidth: 3,
        borderDash: [7, 4],
        pointRadius: 3.6,
        pointHoverRadius: 3.6,
        pointBorderWidth: 2.6,
        pointBorderColor: GREEN,
        pointBackgroundColor: 'rgba(0,0,0,0)',
        tension: 0,
        fill: false,
        clip: false,
        order: 1
      },
      {
        data: filterLengths.map((n, i) => ({ x: n, y: mmseTheory[i] })),
        borderColor: BLUE,
        borderWidth: 3,
        pointRadius: 1.6,
        pointHoverRadius: 1.6,
        pointBorderWidth: 0,
        pointBackgroundColor: BLUE,
        tension: 0,
        fill: false,
        clip: false,
        order: 2
      }
    ]
  },
  options: Object.assign({}, common, {
    layout: { padding: { left: 0, right: 7, top: 29, bottom: 0 } },
    plugins: Object.assign({}, common.plugins, { note: { lines: mmseNote, x: 5.95, y: 0.677 } }),
    scales: {
      x: axis({ position: 'bottom', min: 1, max: 20, ticks: mmseXTicks, labels: mmseXTickLabels, size: 38, tickPad: 6, title: 'Feedforward filter length', titlePad: { top: 0, bottom: 1 } }),
      y: axis({ position: 'left', min: 0.02, max: 0.8, ticks: mmseYTicks, labels: mmseYTickLabels, size: 71, tickPad: 4, title: 'm.m.s.e.', titlePad: { top: 31.5, bottom: 0 } })
    }
  }),
  plugins: [framePlugin, notePlugin]
});
</script>
</body>
</html>
